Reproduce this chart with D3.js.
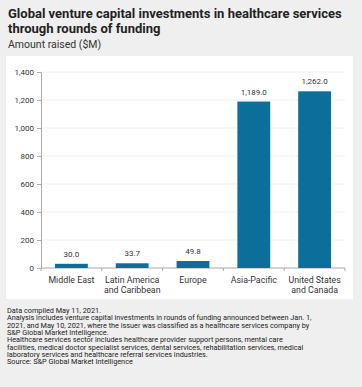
<!DOCTYPE html>
<html>
<head>
<meta charset="utf-8">
<script src="https://cdn.jsdelivr.net/npm/d3@7"></script>
<style>
  body { margin: 0; background: #efefef; }
  svg { display: block; font-family: Roboto, "Noto Sans", sans-serif; }
</style>
</head>
<body>
<script>
// data
var regions = [["Middle East"], ["Latin America", "and Caribbean"], ["Europe"], ["Asia-Pacific"], ["United States", "and Canada"]];
var amounts = [30.0, 33.7, 49.8, 1189.0, 1262.0];
var yTicks = [0, 200, 400, 600, 800, 1000, 1200, 1400];
var titleLines = ["Global venture capital investments in healthcare services", "through rounds of funding"];
var subtitle = "Amount raised ($M)";
var notes = [
  "Data compiled May 11, 2021.",
  "Analysis includes venture capital investments in rounds of funding announced between Jan. 1,",
  "2021, and May 10, 2021, where the issuer was classified as a healthcare services company by",
  "S&P Global Market Intelligence.",
  "Healthcare services sector includes healthcare provider support persons, mental care",
  "facilities, medical doctor specialist services, dental services, rehabilitation services, medical",
  "laboratory services and healthcare referral services industries.",
  "Source: S&P Global Market Intelligence"
];

var W = 362, H = 387;
var svg = d3.select("body").append("svg").attr("width", W).attr("height", H);

svg.append("rect").attr("width", W).attr("height", H).attr("fill", "#efefef");
// white chart panel
svg.append("rect").attr("x", 6).attr("y", 56).attr("width", 347).attr("height", 243).attr("fill", "#fff");

// title
svg.selectAll(".title").data(titleLines).enter().append("text")
  .attr("class", "title")
  .attr("x", 8).attr("y", function (d, i) { return 18 + i * 15; })
  .style("font-size", "13px").style("font-weight", "bold").attr("fill", "#222")
  .text(function (d) { return d; });
svg.append("text").attr("x", 8).attr("y", 48)
  .style("font-size", "10.5px").attr("fill", "#333").text(subtitle);

var margin = { left: 41, right: 17, top: 72, bottom: 119 };
var x = d3.scaleBand()
  .domain(d3.range(regions.length))
  .range([margin.left, W - margin.right])
  .paddingInner(0.46).paddingOuter(0.23);
var y = d3.scaleLinear().domain([0, 1400]).range([H - margin.bottom, margin.top]);

// gridlines
svg.append("g").selectAll("line").data(yTicks.slice(1)).enter().append("line")
  .attr("x1", margin.left).attr("x2", W - margin.right)
  .attr("y1", function (d) { return y(d); }).attr("y2", function (d) { return y(d); })
  .attr("stroke", "#f0f0f0").attr("stroke-width", 1);

// y axis
var yAxis = svg.append("g")
  .attr("transform", "translate(" + margin.left + ",0)")
  .call(d3.axisLeft(y).tickValues(yTicks).tickSize(4).tickPadding(3).tickFormat(d3.format(",")));
yAxis.select(".domain").attr("stroke", "#aaa");
yAxis.selectAll(".tick line").attr("stroke", "#aaa");
yAxis.selectAll("text").style("font-size", "8px").attr("fill", "#333").style("font-family", "Roboto, sans-serif");

// x axis baseline with boundary ticks
var xg = svg.append("g");
xg.append("line").attr("x1", margin.left).attr("x2", W - margin.right)
  .attr("y1", y(0)).attr("y2", y(0)).attr("stroke", "#aaa");
xg.selectAll(".bt").data(d3.range(regions.length + 1)).enter().append("line")
  .attr("x1", function (i) { return margin.left + i * x.step(); })
  .attr("x2", function (i) { return margin.left + i * x.step(); })
  .attr("y1", y(0)).attr("y2", y(0) + 3).attr("stroke", "#aaa");

// bars
svg.selectAll(".bar").data(amounts).enter().append("rect")
  .attr("class", "bar")
  .attr("x", function (d, i) { return x(i); })
  .attr("width", x.bandwidth())
  .attr("y", function (d) { return y(d); })
  .attr("height", function (d) { return y(0) - y(d); })
  .attr("fill", "#0b6e9b");

// value labels
svg.selectAll(".val").data(amounts).enter().append("text")
  .attr("x", function (d, i) { return x(i) + x.bandwidth() / 2; })
  .attr("y", function (d) { return y(d) - 7; })
  .attr("text-anchor", "middle").style("font-size", "8px").attr("fill", "#333")
  .text(function (d) { return d3.format(",.1f")(d); });

// category labels
var cat = svg.selectAll(".cat").data(regions).enter().append("text")
  .attr("text-anchor", "middle").style("font-size", "8.8px").attr("fill", "#333")
  .attr("transform", function (d, i) { return "translate(" + (x(i) + x.bandwidth() / 2) + "," + (y(0) + 15) + ")"; });
cat.selectAll("tspan").data(function (d) { return d; }).enter().append("tspan")
  .attr("x", 0).attr("dy", function (d, i) { return i === 0 ? 0 : 10; })
  .text(function (d) { return d; });

// footnotes
svg.selectAll(".note").data(notes).enter().append("text")
  .attr("x", 7).attr("y", function (d, i) { return 313 + i * 7.3; })
  .style("font-size", "7.3px").attr("fill", "#222")
  .text(function (d) { return d; });
</script>
</body>
</html>
